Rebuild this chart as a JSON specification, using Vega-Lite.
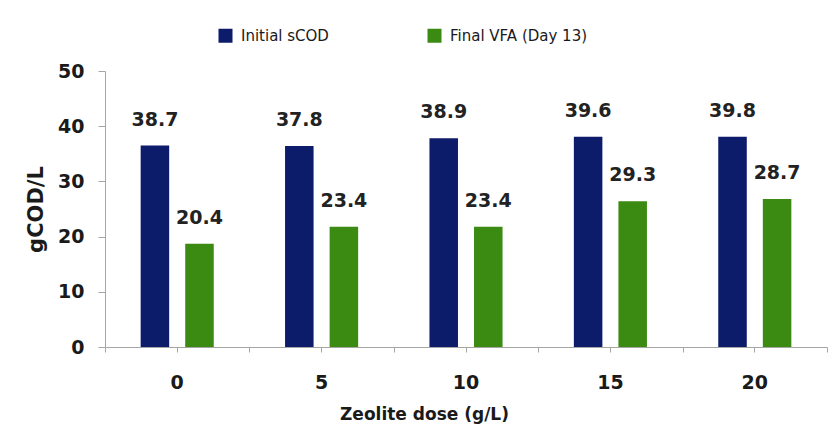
{
  "$schema": "https://vega.github.io/schema/vega-lite/v6.json",
  "width": 722,
  "height": 276,
  "autosize": {"type": "none"},
  "padding": {"left": 105, "top": 71, "right": 2, "bottom": 89},
  "background": "white",
  "data": {
    "values": [
      {"dose": "0", "series": "Initial sCOD", "value": 36.5, "label": "38.7"},
      {"dose": "0", "series": "Final VFA (Day 13)", "value": 18.7, "label": "20.4"},
      {"dose": "5", "series": "Initial sCOD", "value": 36.4, "label": "37.8"},
      {"dose": "5", "series": "Final VFA (Day 13)", "value": 21.8, "label": "23.4"},
      {"dose": "10", "series": "Initial sCOD", "value": 37.8, "label": "38.9"},
      {"dose": "10", "series": "Final VFA (Day 13)", "value": 21.8, "label": "23.4"},
      {"dose": "15", "series": "Initial sCOD", "value": 38.1, "label": "39.6"},
      {"dose": "15", "series": "Final VFA (Day 13)", "value": 26.4, "label": "29.3"},
      {"dose": "20", "series": "Initial sCOD", "value": 38.1, "label": "39.8"},
      {"dose": "20", "series": "Final VFA (Day 13)", "value": 26.8, "label": "28.7"}
    ]
  },
  "encoding": {
    "x": {
      "field": "dose",
      "type": "ordinal",
      "sort": ["0", "5", "10", "15", "20"],
      "scale": {"paddingInner": 0, "paddingOuter": 0},
      "axis": {
        "orient": "bottom",
        "labelAngle": 0,
        "title": "Zeolite dose (g/L)",
        "titleX": 319,
        "titleAlign": "center",
        "domainColor": "#a6a6a6",
        "tickColor": "#a6a6a6",
        "tickSize": 5,
        "labelPadding": 21,
        "labelFont": "DejaVu Sans",
        "labelFontWeight": "bold",
        "labelFontSize": 19,
        "labelColor": "#1a1a1a",
        "titleFont": "DejaVu Sans",
        "titleFontWeight": "bold",
        "titleFontSize": 17,
        "titleColor": "#1a1a1a",
        "titlePadding": 14
      }
    },
    "xOffset": {
      "field": "series",
      "type": "nominal",
      "sort": ["Initial sCOD", "Final VFA (Day 13)"],
      "scale": {"paddingInner": 0.36, "paddingOuter": 0.8}
    },
    "y": {
      "field": "value",
      "type": "quantitative",
      "scale": {"domain": [0, 50]},
      "axis": {
        "values": [0, 10, 20, 30, 40, 50],
        "grid": false,
        "domainColor": "#a6a6a6",
        "tickColor": "#a6a6a6",
        "tickSize": 7,
        "labelPadding": 14,
        "labelFont": "DejaVu Sans",
        "labelFontWeight": "bold",
        "labelFontSize": 19,
        "labelColor": "#1a1a1a",
        "title": "gCOD/L",
        "titleFont": "DejaVu Sans",
        "titleFontWeight": "bold",
        "titleFontSize": 21,
        "titleColor": "#1a1a1a",
        "titlePadding": 11
      }
    }
  },
  "layer": [
    {
      "mark": {"type": "bar"},
      "encoding": {
        "color": {
          "field": "series",
          "type": "nominal",
          "sort": ["Initial sCOD", "Final VFA (Day 13)"],
          "scale": {"domain": ["Initial sCOD", "Final VFA (Day 13)"], "range": ["#0d1b6b", "#3b8a12"]},
          "legend": {
            "orient": "none",
            "legendX": 113,
            "legendY": -43,
            "direction": "horizontal",
            "title": null,
            "symbolType": "square",
            "symbolSize": 196,
            "symbolStrokeWidth": 0,
            "labelFont": "DejaVu Sans",
            "labelFontSize": 15,
            "labelColor": "#1a1a1a",
            "labelOffset": 8,
            "columnPadding": 98
          }
        }
      }
    },
    {
      "mark": {"type": "text", "dy": -26, "baseline": "middle", "align": "center", "font": "DejaVu Sans", "fontWeight": "bold", "fontSize": 19, "color": "#222222"},
      "encoding": {
        "text": {"field": "label"},
        "x": {
          "field": "dose",
          "type": "ordinal",
          "sort": ["0", "5", "10", "15", "20"],
          "axis": {"orient": "bottom", "tickBand": "extent", "labels": false, "domain": false, "title": null, "tickSize": 5, "tickColor": "#a6a6a6"}
        }
      }
    }
  ],
  "resolve": {"axis": {"x": "independent"}},
  "config": {"view": {"stroke": null}}
}
